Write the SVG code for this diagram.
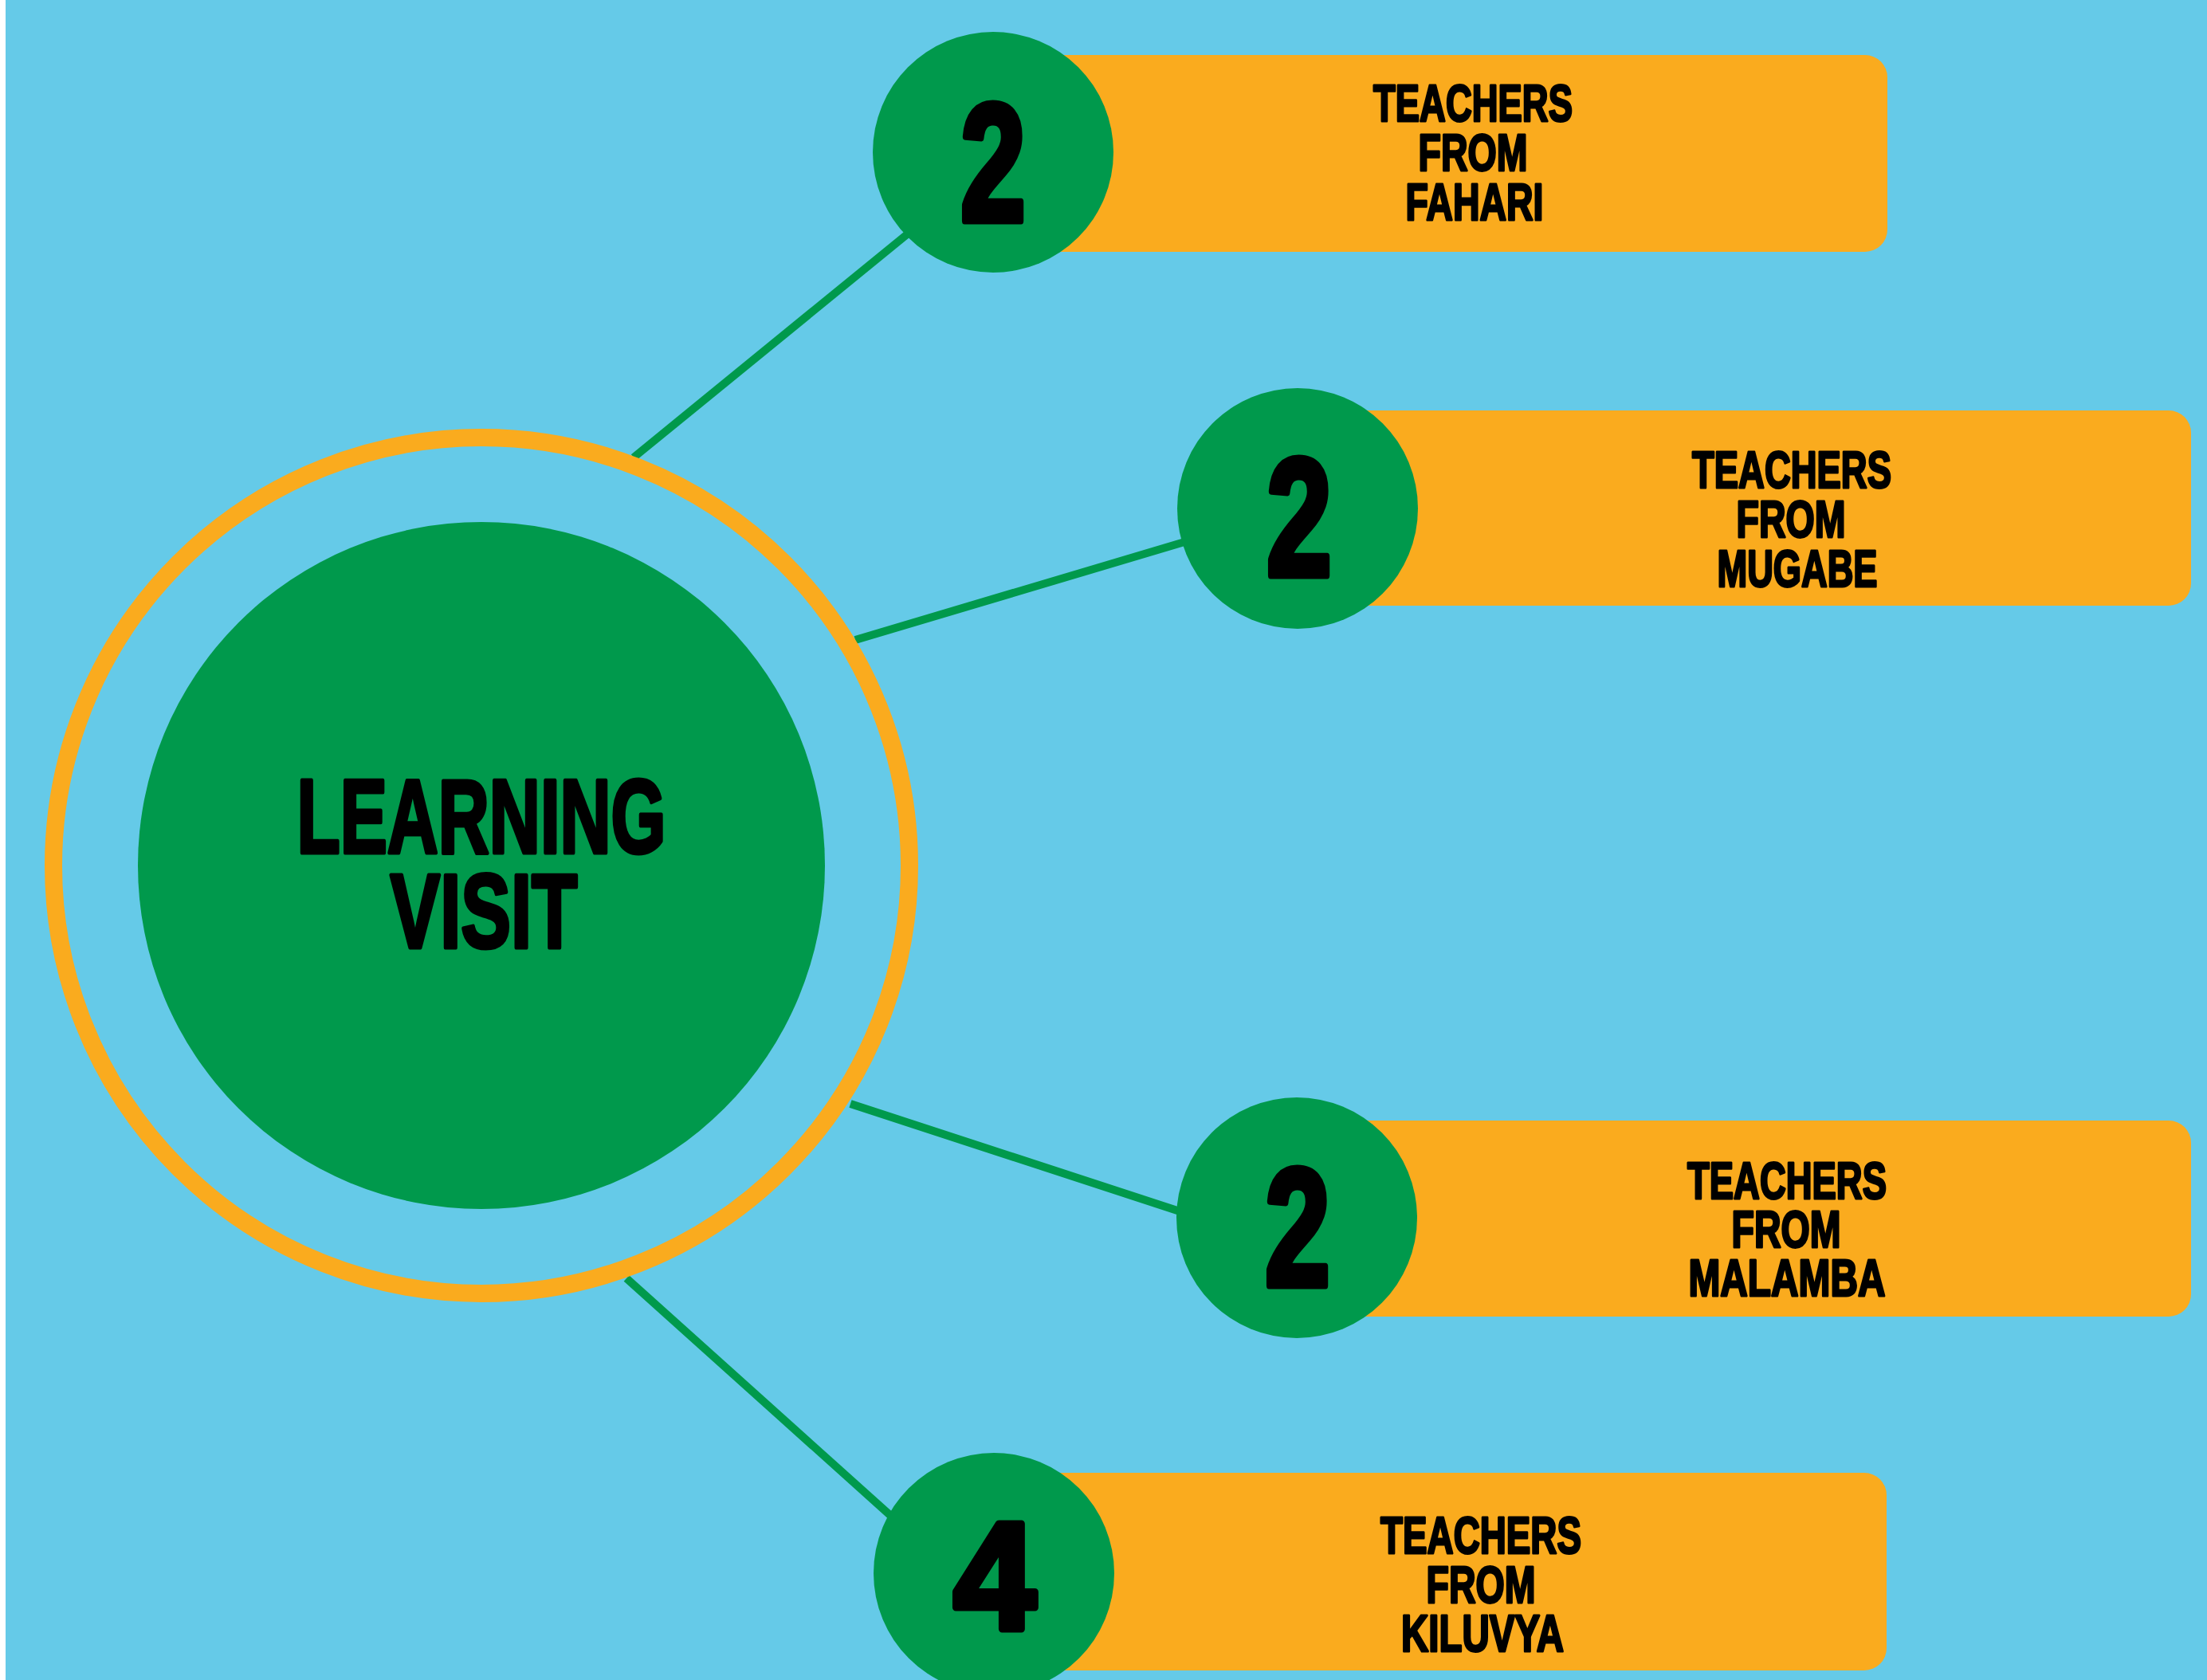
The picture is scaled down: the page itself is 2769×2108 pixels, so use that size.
<svg xmlns="http://www.w3.org/2000/svg" width="2769" height="2108" viewBox="0 0 2769 2108">
<style>
.bg{fill:#65CAE8}
.conn{stroke:#00994C;stroke-width:10;fill:none}
.bar{fill:#FAAB1E}
.dot{fill:#00994C}
.num{font-family:"Liberation Sans Narrow","Liberation Sans",Arial,sans-serif;font-weight:bold;fill:#000;text-anchor:middle;stroke:#000;stroke-width:9;stroke-linejoin:round}
.lbl{font-family:"Liberation Sans Narrow","Liberation Sans",Arial,sans-serif;font-weight:bold;font-size:64px;fill:#000;text-anchor:middle;stroke:#000;stroke-width:3;stroke-linejoin:round}
.title{font-family:"Liberation Sans Narrow","Liberation Sans",Arial,sans-serif;font-weight:bold;font-size:132px;fill:#000;text-anchor:middle;stroke:#000;stroke-width:5;stroke-linejoin:round}
</style>
<rect class="bg" x="0" y="0" width="2769" height="2108"/>
<rect x="0" y="0" width="7" height="2108" fill="#FFFFFF"/>
<g id="connectors">
<line class="conn" x1="795" y1="574" x2="1170" y2="268"/>
<line class="conn" x1="1073" y1="803" x2="1560" y2="658"/>
<line class="conn" x1="1067" y1="1385" x2="1520" y2="1533"/>
<line class="conn" x1="786" y1="1604" x2="1170" y2="1949"/>
</g>
<g id="center">
<circle cx="604" cy="1086" r="537" fill="none" stroke="#FAAB1E" stroke-width="22"/>
<circle class="dot" cx="604" cy="1086" r="431"/>
<text class="title"><tspan x="604" y="1070" textLength="463" lengthAdjust="spacingAndGlyphs">LEARNING</tspan><tspan x="607" y="1189" textLength="235" lengthAdjust="spacingAndGlyphs">VISIT</tspan></text>
</g>
<g id="node-fahari">
<rect class="bar" x="1246" y="69" width="1122" height="247" rx="28"/>
<circle class="dot" cx="1246" cy="191" r="151"/>
<text class="num" x="1246" y="277" font-size="209" textLength="82" lengthAdjust="spacingAndGlyphs">2</text>
<text class="lbl"><tspan x="1848" y="152" textLength="250" lengthAdjust="spacingAndGlyphs">TEACHERS</tspan><tspan x="1848" y="214" textLength="137" lengthAdjust="spacingAndGlyphs">FROM</tspan><tspan x="1850" y="276" textLength="173" lengthAdjust="spacingAndGlyphs">FAHARI</tspan></text>
</g>
<g id="node-mugabe">
<rect class="bar" x="1627" y="515" width="1122" height="245" rx="28"/>
<circle class="dot" cx="1628" cy="638" r="151"/>
<text class="num" x="1630" y="722" font-size="209" textLength="82" lengthAdjust="spacingAndGlyphs">2</text>
<text class="lbl"><tspan x="2248" y="612" textLength="250" lengthAdjust="spacingAndGlyphs">TEACHERS</tspan><tspan x="2247" y="674" textLength="137" lengthAdjust="spacingAndGlyphs">FROM</tspan><tspan x="2255" y="736" textLength="201" lengthAdjust="spacingAndGlyphs">MUGABE</tspan></text>
</g>
<g id="node-malamba">
<rect class="bar" x="1627" y="1406" width="1122" height="246" rx="28"/>
<circle class="dot" cx="1627" cy="1528" r="151"/>
<text class="num" x="1628" y="1613" font-size="209" textLength="82" lengthAdjust="spacingAndGlyphs">2</text>
<text class="lbl"><tspan x="2242" y="1504" textLength="250" lengthAdjust="spacingAndGlyphs">TEACHERS</tspan><tspan x="2241" y="1565" textLength="137" lengthAdjust="spacingAndGlyphs">FROM</tspan><tspan x="2242" y="1626" textLength="247" lengthAdjust="spacingAndGlyphs">MALAMBA</tspan></text>
</g>
<g id="node-kiluvya">
<rect class="bar" x="1246" y="1848" width="1121" height="248" rx="28"/>
<circle class="dot" cx="1247" cy="1974" r="151"/>
<text class="num" x="1248" y="2044" font-size="191" textLength="103" lengthAdjust="spacingAndGlyphs">4</text>
<text class="lbl"><tspan x="1858" y="1949" textLength="252" lengthAdjust="spacingAndGlyphs">TEACHERS</tspan><tspan x="1858" y="2011" textLength="137" lengthAdjust="spacingAndGlyphs">FROM</tspan><tspan x="1860" y="2072" textLength="204" lengthAdjust="spacingAndGlyphs">KILUVYA</tspan></text>
</g>
</svg>
